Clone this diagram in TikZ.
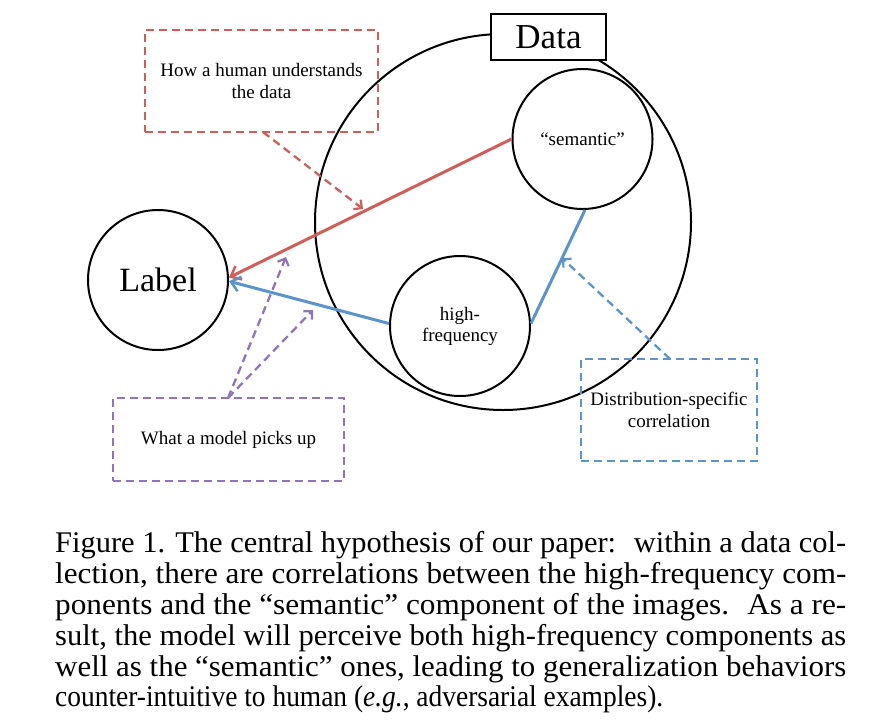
\documentclass[tikz,border=0pt]{standalone}
\usepackage{fontspec}
\setmainfont{Liberation Serif}
\usetikzlibrary{arrows.meta}
\definecolor{myred}{RGB}{206,94,90}
\definecolor{myblue}{RGB}{91,148,205}
\definecolor{mypurple}{RGB}{145,115,185}
\tikzset{
  circ/.style={draw=black, line width=2pt, circle, inner sep=0pt, minimum size=140pt, font=\fontsize{19}{21}\selectfont, align=center},
  dbox/.style={draw, line width=2pt, dash pattern=on 8pt off 5pt, inner sep=0pt, font=\fontsize{19}{22}\selectfont, align=center},
  solidarrow/.style={line width=3pt, -{Straight Barb[length=9pt,width=15pt,line width=2.5pt]}},
  dasharrow/.style={line width=2.3pt, dash pattern=on 8pt off 5pt, -{Straight Barb[length=6pt,width=12pt,line width=2.2pt]}},
  capline/.style={anchor=base west, inner sep=0pt, font=\fontsize{30}{31}\selectfont}
}
\begin{document}
\begin{tikzpicture}[x=1pt,y=-1pt]
\useasboundingbox (0,0) rectangle (874,721);
\node[circ, minimum size=376pt] (data) at (503,222) {};
\node[circ, font=\fontsize{34}{38}\selectfont] (label) at (158,280) {Label};
\node[circ] (sem) at (582.5,139) {“semantic”};
\node[circ] (hf) at (460,326) {high-\\frequency};
\node[draw=black, fill=white, line width=2pt, minimum width=115pt, minimum height=46pt, inner sep=0pt, font=\fontsize{35}{38}\selectfont] (dlabel) at (548.5,37) {Data};

\node[dbox, draw=myred, minimum width=233pt, minimum height=102pt] (rbox) at (261.5,81) {How a human understands\\the data};
\node[dbox, draw=mypurple, minimum width=231pt, minimum height=83pt] (pbox) at (228.5,439.5) {What a model picks up};
\node[dbox, draw=myblue, minimum width=176pt, minimum height=102pt] (bbox) at (669,410) {Distribution-specific\\correlation};

\draw[solidarrow, myred] (sem.180) -- (label.2);
\draw[solidarrow, myblue] (hf.178) -- (label.-1);
\draw[line width=3pt, myblue] (hf.2) -- (sem.-88);

\coordinate (rtip) at (363,209);
\coordinate (ptipa) at (286,257);
\coordinate (ptipb) at (313,310);
\coordinate (btip) at (562,258);
\coordinate (rstart) at (263,132);
\coordinate (pstart) at (228,398);
\coordinate (bstart) at (670,359);
\draw[dasharrow, myred] (rstart) -- (rtip);
\draw[dasharrow, mypurple] (pstart) -- (ptipa);
\draw[dasharrow, mypurple] (pstart) -- (ptipb);
\draw[dasharrow, myblue] (bstart) -- (btip);

\node[capline] (c1) at (55,552) {\resizebox{791pt}{\height}{Figure 1. The central hypothesis of our paper: \ within a data col-}};
\node[capline] (c2) at (55,583) {\resizebox{791pt}{\height}{lection, there are correlations between the high-frequency com-}};
\node[capline] (c3) at (55,614) {\resizebox{791pt}{\height}{ponents and the “semantic” component of the images. \ As a re-}};
\node[capline] (c4) at (55,645) {\resizebox{791pt}{\height}{sult, the model will perceive both high-frequency components as}};
\node[capline] (c5) at (55,676) {\resizebox{791pt}{\height}{well as the “semantic” ones, leading to generalization behaviors}};
\node[capline] (c6) at (55,706) {\resizebox{608pt}{\height}{counter-intuitive to human (\textit{e.g.}, adversarial examples).}};
\end{tikzpicture}
\end{document}
